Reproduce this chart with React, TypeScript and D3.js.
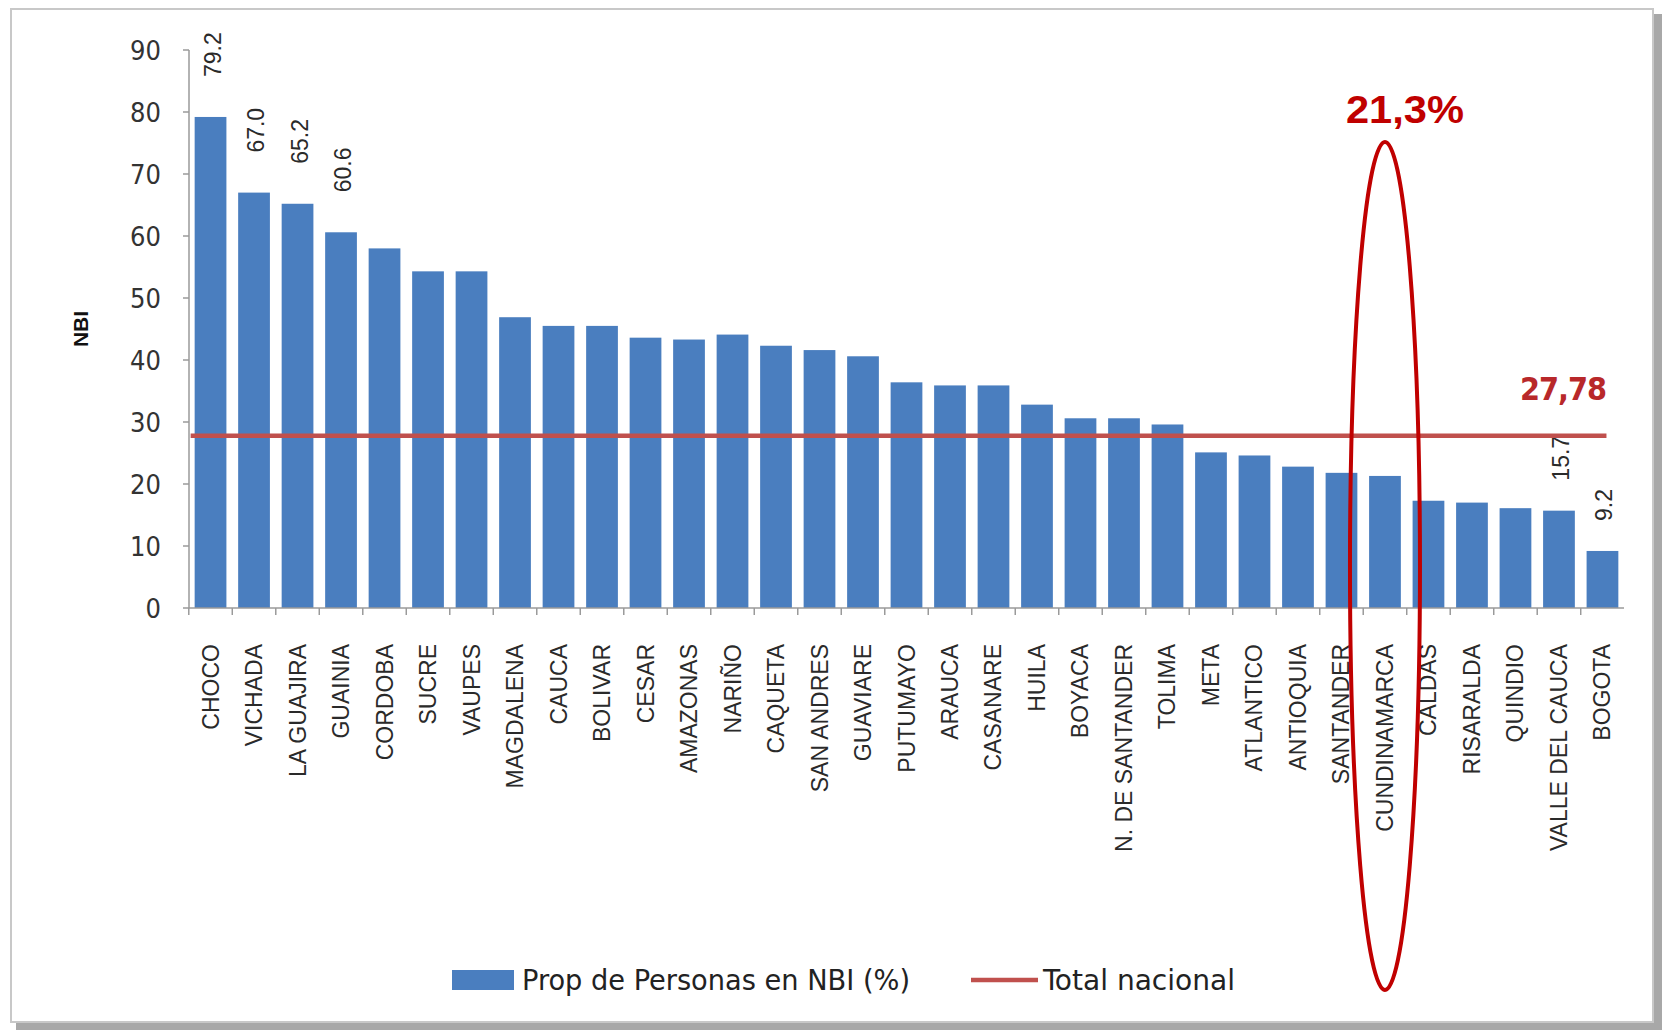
import React from "react";
import { scaleBand, scaleLinear } from "d3";

// Departamentos y porcentaje de personas en NBI
const categories = [
  "CHOCO", "VICHADA", "LA GUAJIRA", "GUAINIA", "CORDOBA", "SUCRE", "VAUPES",
  "MAGDALENA", "CAUCA", "BOLIVAR", "CESAR", "AMAZONAS", "NARIÑO", "CAQUETA",
  "SAN ANDRES", "GUAVIARE", "PUTUMAYO", "ARAUCA", "CASANARE", "HUILA", "BOYACA",
  "N. DE SANTANDER", "TOLIMA", "META", "ATLANTICO", "ANTIOQUIA", "SANTANDER",
  "CUNDINAMARCA", "CALDAS", "RISARALDA", "QUINDIO", "VALLE DEL CAUCA", "BOGOTA",
];
const values = [
  79.2, 67.0, 65.2, 60.6, 58.0, 54.3, 54.3, 46.9, 45.5, 45.5, 43.6, 43.3, 44.1,
  42.3, 41.6, 40.6, 36.4, 35.9, 35.9, 32.8, 30.6, 30.6, 29.6, 25.1, 24.6, 22.8,
  21.8, 21.3, 17.3, 17.0, 16.1, 15.7, 9.2,
];
const valueLabels = [
  "79.2", "67.0", "65.2", "60.6", "", "", "", "", "", "", "", "", "", "", "", "",
  "", "", "", "", "", "", "", "", "", "", "", "", "", "", "", "15.7", "9.2",
];
const yTicks = [0, 10, 20, 30, 40, 50, 60, 70, 80, 90];
const totalNacional = 27.78;
const totalLabel = "27,78";
const highlightCategory = "CUNDINAMARCA";
const highlightLabel = "21,3%";
const legendBars = "Prop de Personas en NBI (%)";
const legendLine = "Total nacional";
const yTitle = "NBI";

const W = 1669;
const H = 1033;
const BLUE = "#4a7ebf";
const RED_LINE = "#c0504d";
const RED = "#c00000";
const NARROW = "'Liberation Sans Narrow', 'Arial Narrow', 'DejaVu Sans Condensed', sans-serif";
const SANS = "'Liberation Sans', Arial, sans-serif";

const App: React.FC = () => {
  const x = scaleBand<string>().domain(categories).range([189, 1624]).paddingInner(0.27).paddingOuter(0.13);
  const y = scaleLinear().domain([0, 90]).range([608, 50]);
  const bw = x.bandwidth();
  const step = x.step();

  const lineY = y(totalNacional);
  const hx = (x(highlightCategory) ?? 0) + bw / 2;

  return (
    <div style={{ position: "absolute", left: 0, top: 0 }}>
      <svg width={W} height={H} style={{ display: "block", background: "#fff" }}>
        {/* marco con sombra */}
        <rect x={1650} y={14} width={12} height={1016} fill="#a8a8a8" />
        <rect x={16} y={1020} width={1646} height={10} fill="#a8a8a8" />
        <rect x={11} y={9} width={1642} height={1013} fill="#fff" stroke="#c8c8c8" strokeWidth={2} />

        {/* eje Y */}
        <line x1={189} x2={189} y1={y(90)} y2={y(0)} stroke="#9a9a9a" strokeWidth={1.5} />
        {yTicks.map((t) => (
          <g key={t}>
            <line x1={183} x2={189} y1={y(t)} y2={y(t)} stroke="#9a9a9a" strokeWidth={1.5} />
            <text x={161} y={y(t)} dy="0.36em" textAnchor="end" fontFamily={NARROW} fontSize={27} fill="#333">
              {t}
            </text>
          </g>
        ))}
        <text
          transform={`translate(88,${(y(0) + y(90)) / 2}) rotate(-90)`}
          textAnchor="middle"
          fontFamily={SANS}
          fontWeight="bold"
          fontSize={21}
          fill="#111"
        >
          {yTitle}
        </text>

        {/* barras */}
        {categories.map((c, i) => (
          <rect key={c} x={x(c)} y={y(values[i])} width={bw} height={y(0) - y(values[i])} fill={BLUE} />
        ))}

        {/* eje X */}
        <line x1={189} x2={1624} y1={y(0)} y2={y(0)} stroke="#9a9a9a" strokeWidth={1.5} />
        {categories.map((c) => (
          <line
            key={c}
            x1={(x(c) ?? 0) - (step - bw) / 2}
            x2={(x(c) ?? 0) - (step - bw) / 2}
            y1={y(0)}
            y2={y(0) + 7}
            stroke="#9a9a9a"
            strokeWidth={1.5}
          />
        ))}
        {categories.map((c) => (
          <text
            key={c}
            transform={`translate(${(x(c) ?? 0) + bw / 2 + 8},644) rotate(-90)`}
            textAnchor="end"
            fontFamily={SANS}
            fontSize={23}
            fill="#2a2a2a"
          >
            {c}
          </text>
        ))}

        {/* etiquetas de valor */}
        {categories.map((c, i) =>
          valueLabels[i] ? (
            <text
              key={c}
              transform={`translate(${(x(c) ?? 0) + bw / 2 + 10},${y(values[i]) - (i < 4 ? 40 : 30)}) rotate(-90)`}
              textAnchor="start"
              fontFamily={SANS}
              fontSize={23}
              fill="#2a2a2a"
            >
              {valueLabels[i]}
            </text>
          ) : null
        )}

        {/* total nacional */}
        <line
          x1={(x(categories[0]) ?? 0) - 4}
          x2={(x(categories[categories.length - 1]) ?? 0) + bw / 2 + 4}
          y1={lineY}
          y2={lineY}
          stroke={RED_LINE}
          strokeWidth={4.5}
        />
        <text x={1606} y={lineY - 36} textAnchor="end" fontFamily={NARROW} fontWeight="bold" fontSize={32} fill="#b8282a" letterSpacing={-1}>
          {totalLabel}
        </text>

        {/* resaltado Cundinamarca */}
        <ellipse cx={hx} cy={566} rx={35} ry={424} fill="none" stroke={RED} strokeWidth={4} />
        <text
          x={hx + 20}
          y={123}
          textAnchor="middle"
          fontFamily={SANS}
          fontWeight="bold"
          fontSize={38}
          fill={RED}
          textLength={118}
          lengthAdjust="spacingAndGlyphs"
        >
          {highlightLabel}
        </text>

        {/* leyenda */}
        <rect x={452} y={970} width={62} height={20} fill={BLUE} />
        <text x={522} y={980} dy="0.36em" fontFamily={NARROW} fontSize={29} fill="#222" textLength={388} lengthAdjust="spacingAndGlyphs">
          {legendBars}
        </text>
        <line x1={971} x2={1038} y1={980} y2={980} stroke={RED_LINE} strokeWidth={4.5} />
        <text x={1043} y={980} dy="0.36em" fontFamily={NARROW} fontSize={29} fill="#222" textLength={192} lengthAdjust="spacingAndGlyphs">
          {legendLine}
        </text>
      </svg>
    </div>
  );
};

export default App;
